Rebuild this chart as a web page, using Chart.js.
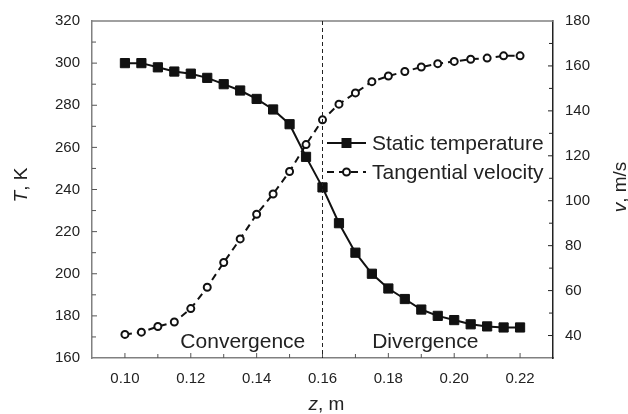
<!DOCTYPE html>
<html>
<head>
<meta charset="utf-8">
<script src="https://cdn.jsdelivr.net/npm/chart.js@4.4.0/dist/chart.umd.min.js"></script>
<style>
  html, body { margin: 0; padding: 0; background: #fff; }
  #wrap { width: 628px; height: 414px; }
</style>
</head>
<body>
<div id="wrap"><canvas id="graph1"></canvas></div>
<script>
// z positions, m
const zValues = [0.100, 0.105, 0.110, 0.115, 0.120, 0.125, 0.130, 0.135, 0.140, 0.145, 0.150, 0.155, 0.160,
                 0.165, 0.170, 0.175, 0.180, 0.185, 0.190, 0.195, 0.200, 0.205, 0.210, 0.215, 0.220];
// static temperature, K
const staticTemp = [300, 300, 298, 296, 295, 293, 290, 287, 283, 278, 271, 255.5, 241,
                    224, 210, 200, 193, 188, 183, 180, 178, 176, 175, 174.5, 174.5];
// tangential velocity, m/s
const tangVel = [40.5, 41.5, 44, 46, 52, 61.5, 72.5, 83, 94, 103, 113, 125, 136,
                 143, 148, 153, 155.5, 157.5, 159.5, 161, 162, 163, 163.5, 164.5, 164.5];

const zTicks = [0.10, 0.12, 0.14, 0.16, 0.18, 0.20, 0.22];
const tTicks = [160, 180, 200, 220, 240, 260, 280, 300, 320];
const vTicks = [40, 60, 80, 100, 120, 140, 160, 180];
const throatZ = 0.16;
const regionLabels = [
  { text: 'Convergence', z: 0.1358, t: 167.5 },
  { text: 'Divergence', z: 0.1912, t: 167.5 }
];

const FONT = '"Liberation Sans", Arial, sans-serif';
const AXIS_GREY = '#808080';

const decor = {
  id: 'decor',
  afterDraw(chart) {
    const ctx = chart.ctx;
    const a = chart.chartArea;
    const x = chart.scales.x, yL = chart.scales.yT, yR = chart.scales.yV;
    ctx.save();

    // top border
    ctx.strokeStyle = AXIS_GREY;
    ctx.lineWidth = 1.5;
    ctx.beginPath();
    ctx.moveTo(a.left, a.top);
    ctx.lineTo(a.right, a.top);
    ctx.stroke();

    // inward ticks (major + minor)
    ctx.lineWidth = 1;
    ctx.strokeStyle = '#555';
    for (let v = 170; v < 320; v += 10) {
      const p = yL.getPixelForValue(v);
      const len = v % 20 === 0 ? 5 : 4;
      ctx.beginPath(); ctx.moveTo(a.left, p); ctx.lineTo(a.left + len, p); ctx.stroke();
    }
    ctx.strokeStyle = '#222';
    for (let v = 40; v < 180; v += 10) {
      const p = yR.getPixelForValue(v);
      const len = v % 20 === 0 ? 5 : 4;
      ctx.beginPath(); ctx.moveTo(a.right, p); ctx.lineTo(a.right - len, p); ctx.stroke();
    }
    ctx.strokeStyle = '#555';
    for (let i = 10; i <= 22; i++) {
      const p = x.getPixelForValue(i / 100);
      const len = i % 2 === 0 ? 5 : 4;
      ctx.beginPath(); ctx.moveTo(p, a.bottom); ctx.lineTo(p, a.bottom - len); ctx.stroke();
    }

    // throat line
    const xt = x.getPixelForValue(throatZ);
    ctx.strokeStyle = '#222';
    ctx.setLineDash([4, 3]);
    ctx.beginPath();
    ctx.moveTo(xt, a.top);
    ctx.lineTo(xt, a.bottom);
    ctx.stroke();
    ctx.setLineDash([]);

    // region labels
    ctx.fillStyle = '#222';
    ctx.font = '21px ' + FONT;
    ctx.textAlign = 'center';
    ctx.textBaseline = 'middle';
    regionLabels.forEach(r => {
      ctx.fillText(r.text, x.getPixelForValue(r.z), yL.getPixelForValue(r.t));
    });

    // legend
    const lx = 327, lx2 = 366, tx = 372;
    const rows = [
      { label: 'Static temperature', y: 143, ds: chart.data.datasets[0] },
      { label: 'Tangential velocity', y: 172, ds: chart.data.datasets[1] }
    ];
    rows.forEach(r => {
      ctx.strokeStyle = '#111';
      ctx.lineWidth = 2;
      ctx.setLineDash(r.ds.borderDash || []);
      ctx.beginPath(); ctx.moveTo(lx, r.y); ctx.lineTo(lx2, r.y); ctx.stroke();
      ctx.setLineDash([]);
      const cx = (lx + lx2) / 2;
      if (r.ds.pointStyle === 'rect') {
        ctx.fillStyle = '#111';
        ctx.fillRect(cx - 5, r.y - 5, 10, 10);
      } else {
        ctx.fillStyle = '#fff';
        ctx.beginPath(); ctx.arc(cx, r.y, 3.5, 0, Math.PI * 2); ctx.fill(); ctx.stroke();
      }
      ctx.fillStyle = '#222';
      ctx.font = '21px ' + FONT;
      ctx.textAlign = 'left';
      ctx.textBaseline = 'middle';
      ctx.fillText(r.label, tx, r.y + 1);
    });

    // axis titles with italic symbol
    const drawTitle = (sym, rest, cx, cy, rot) => {
      ctx.save();
      ctx.translate(cx, cy);
      ctx.rotate(rot);
      ctx.fillStyle = '#222';
      ctx.textBaseline = 'middle';
      ctx.textAlign = 'left';
      ctx.font = 'italic 19px ' + FONT;
      const w1 = ctx.measureText(sym).width;
      ctx.font = '19px ' + FONT;
      const w2 = ctx.measureText(rest).width;
      const start = -(w1 + w2) / 2;
      ctx.font = 'italic 19px ' + FONT;
      ctx.fillText(sym, start, 0);
      ctx.font = '19px ' + FONT;
      ctx.fillText(rest, start + w1, 0);
      ctx.restore();
    };
    drawTitle('T', ', K', 22, 185, -Math.PI / 2);
    drawTitle('v', ', m/s', 621, 187, -Math.PI / 2);
    drawTitle('z', ', m', (a.left + a.right) / 2 + 4, 405, 0);

    ctx.restore();
  }
};

const initGraphix = () => {
  const graphique = document.getElementById('graph1');
  new Chart(graphique, {
    type: 'line',
    data: {
      datasets: [{
        label: 'Static temperature',
        data: zValues.map((z, i) => ({ x: z, y: staticTemp[i] })),
        yAxisID: 'yT',
        borderColor: '#111',
        borderWidth: 2,
        backgroundColor: '#111',
        pointStyle: 'rect',
        pointRadius: 6.5,
        pointBorderWidth: 1,
        pointBackgroundColor: '#111',
        pointBorderColor: '#111',
        tension: 0
      }, {
        label: 'Tangential velocity',
        data: zValues.map((z, i) => ({ x: z, y: tangVel[i] })),
        yAxisID: 'yV',
        borderColor: '#111',
        borderWidth: 2,
        borderDash: [7, 5],
        pointStyle: 'circle',
        pointRadius: 3.5,
        pointBorderWidth: 2,
        pointBackgroundColor: '#fff',
        pointBorderColor: '#111',
        tension: 0
      }]
    },
    options: {
      responsive: true,
      maintainAspectRatio: false,
      animation: false,
      events: [],
      layout: { padding: { top: 17 } },
      plugins: { legend: { display: false }, tooltip: { enabled: false } },
      scales: {
        x: {
          type: 'linear',
          min: 0.09,
          max: 0.23,
          afterBuildTicks: s => { s.ticks = zTicks.map(v => ({ value: v })); },
          afterFit: s => { s.height = 56; },
          grid: { display: true, drawOnChartArea: false, drawTicks: false },
          border: { display: true, color: AXIS_GREY, width: 1.5 },
          ticks: {
            padding: 12,
            color: '#222',
            font: { family: FONT, size: 15 },
            callback: v => v.toFixed(2)
          }
        },
        yT: {
          position: 'left',
          min: 160,
          max: 320,
          afterBuildTicks: s => { s.ticks = tTicks.map(v => ({ value: v })); },
          afterFit: s => { s.width = 92; },
          grid: { display: true, drawOnChartArea: false, drawTicks: false },
          border: { display: true, color: AXIS_GREY, width: 1.5 },
          ticks: {
            padding: 12,
            color: '#222',
            font: { family: FONT, size: 15 }
          }
        },
        yV: {
          position: 'right',
          min: 30,
          max: 180,
          afterBuildTicks: s => { s.ticks = vTicks.map(v => ({ value: v })); },
          afterFit: s => { s.width = 75; },
          grid: { display: true, drawOnChartArea: false, drawTicks: false },
          border: { display: true, color: '#222', width: 1.5 },
          ticks: {
            padding: 12,
            color: '#222',
            font: { family: FONT, size: 15 }
          }
        }
      }
    },
    plugins: [decor]
  });
};
initGraphix();
</script>
</body>
</html>
